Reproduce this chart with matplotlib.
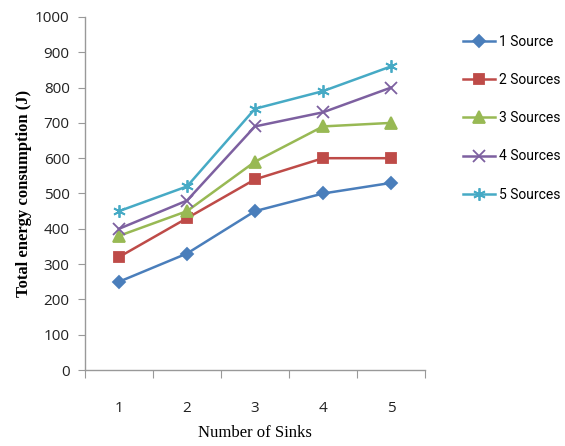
import matplotlib.pyplot as plt

sinks = [1, 2, 3, 4, 5]
src1 = [250, 330, 450, 500, 530]
src2 = [320, 430, 540, 600, 600]
src3 = [380, 450, 590, 690, 700]
src4 = [400, 480, 690, 730, 800]
src5 = [450, 520, 740, 790, 860]
labels = ['1 Source', '2 Sources', '3 Sources', '4 Sources', '5 Sources']

colors = ['#4A7EBB', '#BE4B48', '#98B954', '#7D60A0', '#46AAC5']
markers = ['D', 's', '^', 'x', (6, 2, 0)]
msizes = [6, 7, 8, 8, 9]

fig = plt.figure(figsize=(5.65, 4.46), dpi=100, facecolor='w')
ax = fig.add_axes((0.1504, 0.1704, 0.6018, 0.7915))

series = [src1, src2, src3, src4, src5]
for vals, c, m, ms, lab in zip(series, colors, markers, msizes, labels):
    ax.plot(sinks, vals, color=c, marker=m, markersize=ms, linewidth=1.8,
            markeredgewidth=1.3, label=lab)

ax.set_xlim(0.5, 5.5)
ax.set_ylim(0, 1000)
ax.set_yticks(range(0, 1001, 100))
ax.set_xticks([0.5, 1.5, 2.5, 3.5, 4.5, 5.5], minor=False)
ax.set_xticklabels([])
ax.set_xticks(sinks, minor=True)
ax.set_xticklabels([str(s) for s in sinks], minor=True, fontfamily='Open Sans',
                   fontsize=11, color='#222222')
ax.tick_params(axis='x', which='minor', length=0, pad=22)
ax.tick_params(axis='x', which='major', length=6, color='#999999', direction='out')
ax.tick_params(axis='y', length=5, color='#999999', direction='out', pad=6)
for t in ax.get_yticklabels():
    t.set_fontfamily('Open Sans')
    t.set_fontsize(11)
    t.set_color('#222222')

for s in ['top', 'right']:
    ax.spines[s].set_visible(False)
for s in ['left', 'bottom']:
    ax.spines[s].set_color('#999999')
    ax.spines[s].set_linewidth(1.0)

ax.set_ylabel('Total energy consumption (J)', fontname='Liberation Serif',
              fontweight='bold', fontsize=12, labelpad=2)
ax.set_xlabel('Number of Sinks', fontname='Liberation Serif', fontsize=12, labelpad=7)

fig.legend(loc='upper left', bbox_to_anchor=(0.81, 0.935), frameon=False,
           prop={'family': 'Roboto', 'size': 10}, handlelength=2.3,
           labelspacing=1.75, handletextpad=0.25, borderaxespad=0)

fig.savefig('out.png', dpi=100)
